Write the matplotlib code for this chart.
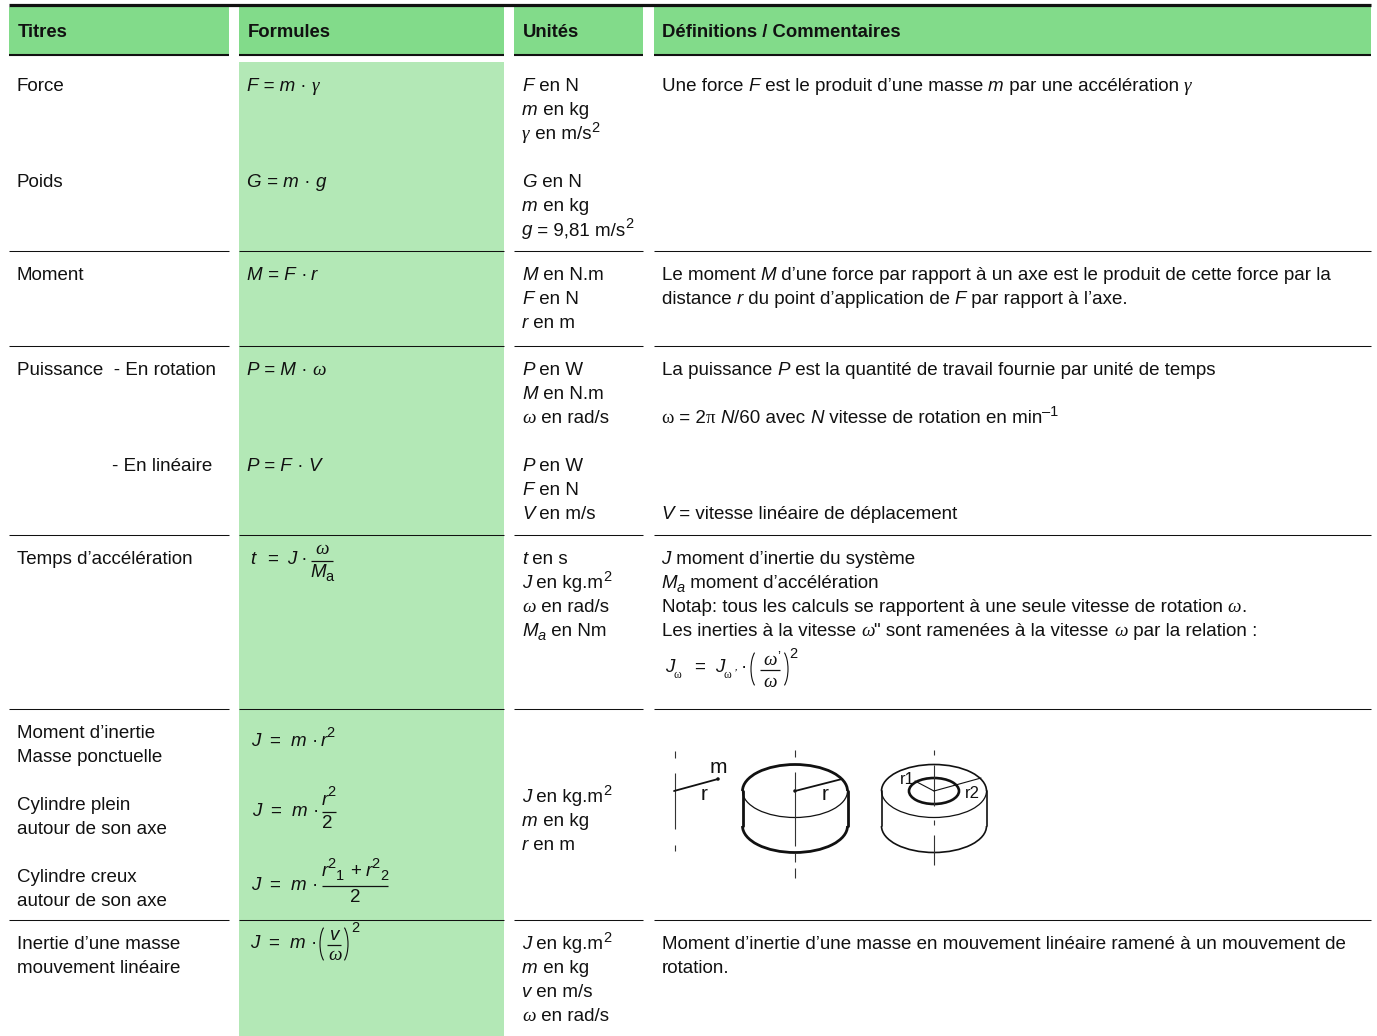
import re
import matplotlib
matplotlib.use('Agg')
import matplotlib.pyplot as plt
from matplotlib.patches import Rectangle, Ellipse, Arc

# couleurs
VERT = '#82db8a'
VERT_CLAIR = '#b3e8b6'
NOIR = '#111111'
TAILLE = 13.47

# en-tetes
entetes = ['Titres', 'Formules', 'Unités', 'Définitions / Commentaires']

# colonnes (bords gauche / droit)
col_gauche = [9, 239, 514, 654]
col_droite = [229, 504, 643, 1371]
col_texte = [17, 247, 522, 661.5]

# lignes de separation
lignes_y = [251, 346, 535, 709, 920]

# contenu, marquage : {i:italique} {g:grec} {h:grec droit} {s:exposant} {b:indice}
titres = ['Force', 'Poids', 'Moment', 'Puissance  - En rotation',
          'Temps d’accélération', 'Moment d’inertie', 'Masse ponctuelle',
          'Cylindre plein', 'autour de son axe', 'Cylindre creux',
          'autour de son axe', 'Inertie d’une masse', 'mouvement linéaire']
titres_y = [85, 181, 274, 369, 558, 732, 756, 804, 828, 876, 900, 943, 967]

formules = ['{i:F = m} · {g:γ}', '{i:G = m} · {i:g}', '{i:M = F} ·\u2009{i:r}',
            '{i:P = M} · {g:ω}', '{i:P = F} · {i:V}']
formules_y = [85, 181, 274, 369, 465]

unites = ['{i:F} en N', '{i:m} en kg', '{g:γ} en m/s{s:2}',
          '{i:G} en N', '{i:m} en kg', '{i:g} = 9,81 m/s{s:2}',
          '{i:M} en N.m', '{i:F} en N', '{i:r} en m',
          '{i:P} en W', '{i:M} en N.m', '{g:ω} en rad/s',
          '{i:P} en W', '{i:F} en N', '{i:V} en m/s',
          '{i:t} en s', '{i:J} en kg.m{s:2}', '{g:ω} en rad/s', '{i:M}{b:a} en Nm',
          '{i:J} en kg.m{s:2}', '{i:m} en kg', '{i:r} en m',
          '{i:J} en kg.m{s:2}', '{i:m} en kg', '{i:v} en m/s', '{g:ω} en rad/s']
unites_y = [85, 109, 133, 181, 205, 229, 274, 298, 322, 369, 393, 417,
            465, 489, 513, 558, 582, 606, 630, 796, 820, 844, 943, 967, 991, 1015]

definitions = [
    'Une force {i:F} est le produit d’une masse {i:m} par une accélération {g:γ}',
    'Le moment {i:M} d’une force par rapport à un axe est le produit de cette force par la',
    'distance {i:r} du point d’application de {i:F} par rapport à l’axe.',
    'La puissance {i:P} est la quantité de travail fournie par unité de temps',
    '{h:ω} = 2{h:π} {i:N}/60 avec {i:N} vitesse de rotation en min{s:–1}',
    '{i:V} = vitesse linéaire de déplacement',
    '{i:J} moment d’inertie du système',
    '{i:M}{b:a} moment d’accélération',
    'Notaþ: tous les calculs se rapportent à une seule vitesse de rotation {g:ω}.',
    'Les inerties à la vitesse {g:ω}" sont ramenées à la vitesse {g:ω} par la relation :',
    'Moment d’inertie d’une masse en mouvement linéaire ramené à un mouvement de',
    'rotation.']
definitions_y = [85, 274, 298, 369, 417, 513, 558, 582, 606, 630, 943, 967]

fig = plt.figure(figsize=(13.77, 10.36), dpi=100)
ax = fig.add_axes([0, 0, 1, 1])
ax.set_xlim(0, 1377)
ax.set_ylim(1036, 0)
ax.axis('off')
renderer = fig.canvas.get_renderer()


def style_de(kind, size):
    # retourne la police, le decalage vertical et la taille de chaque morceau
    if kind == 'i':
        return dict(family='Liberation Sans', style='italic', size=size), 0
    if kind == 'g':
        return dict(family='Liberation Serif', style='italic', size=size * 1.02), 0
    if kind == 'h':
        return dict(family='Liberation Serif', style='normal', size=size), 0
    if kind == 's':
        return dict(family='Liberation Sans', size=size * 0.78), -7
    if kind == 'b':
        return dict(family='Liberation Sans', style='italic', size=size * 0.78), 4
    return dict(family='Liberation Sans', size=size), 0


def largeur(s, **kw):
    # le x evite de perdre les espaces en bout de chaine
    a = ax.text(0, 0, 'x' + s + 'x', **kw)
    b = ax.text(0, 0, 'xx', **kw)
    w = a.get_window_extent(renderer).width - b.get_window_extent(renderer).width
    a.remove()
    b.remove()
    return w


def riche(x, ybase, s, size=TAILLE, center=False):
    morceaux = []
    pos = 0
    for m in re.finditer(r'\{(\w):([^}]*)\}', s):
        if m.start() > pos:
            morceaux.append(('n', s[pos:m.start()]))
        morceaux.append((m.group(1), m.group(2)))
        pos = m.end()
    if pos < len(s):
        morceaux.append(('n', s[pos:]))
    mesures = [largeur(t, **style_de(k, size)[0]) for k, t in morceaux]
    if center:
        x -= sum(mesures) / 2
    for (k, t), w in zip(morceaux, mesures):
        kw, dy = style_de(k, size)
        ax.text(x, ybase + dy, t, va='baseline', ha='left', color=NOIR, **kw)
        x += w
    return x


def ligne(x, y, s, **kw):
    riche(x, y + 6, s, **kw)


def barre(x0, x1, y, lw=0.9):
    ax.plot([x0, x1], [y, y], color=NOIR, lw=lw, solid_capstyle='butt')


def parentheses(x0, x1, yc, h):
    ax.add_patch(Arc((x0 + 8, yc), 16, h * 1.03, theta1=105, theta2=255, color=NOIR, lw=0.8))
    ax.add_patch(Arc((x1 - 8, yc), 16, h * 1.03, theta1=-75, theta2=75, color=NOIR, lw=0.8))


# fonds
for g, d in zip(col_gauche, col_droite):
    ax.add_patch(Rectangle((g, 7), d - g, 47, fc=VERT, ec='none'))
    barre(g, d, 54.8, lw=1.5)
ax.add_patch(Rectangle((239, 62), 265, 974, fc=VERT_CLAIR, ec='none'))
barre(9, 1371, 5.3, lw=2.3)

for y in lignes_y:
    for g, d in zip(col_gauche, col_droite):
        barre(g, d, y - 0.2, lw=0.75)

# textes
for x, t in zip(col_texte, entetes):
    ax.text(x + 0.7, 37, t, family='Liberation Sans', weight='bold', size=13.35,
            va='baseline', color=NOIR)
for t, y in zip(titres, titres_y):
    ligne(col_texte[0], y, t)
ligne(112, 465, '- En linéaire')
for t, y in zip(formules, formules_y):
    ligne(col_texte[1], y, t)
for t, y in zip(unites, unites_y):
    ligne(col_texte[2], y, t)
for t, y in zip(definitions, definitions_y):
    ligne(col_texte[3], y, t)

# temps d'acceleration
riche(250, 564, '{i:t}')
riche(267, 564, '=')
riche(287, 564, '{i:J} ·')
riche(322, 554, '{g:ω}', center=True)
barre(311, 333, 560.5)
riche(310, 577, '{i:M}')
riche(325, 581, 'a', size=TAILLE * 0.78)

# J omega
riche(665, 672, '{i:J}')
riche(674, 678, '{h:ω}', size=8.5)
riche(694, 672, '=')
riche(715, 672, '{i:J}')
riche(724, 678, '{h:ω}', size=8.5)
riche(734, 678, '{i:’}', size=9)
riche(741, 672, '·')
parentheses(751, 788, 669, 38)
riche(770, 665, '{g:ω}', center=True)
riche(777, 660, '’', size=10)
barre(760, 780, 669.5)
riche(770, 687, '{g:ω}', center=True)
riche(789, 658, '2', size=TAILLE * 0.78)


def debut_j(x, y):
    riche(x, y, '{i:J}')
    riche(x + 18, y, '=')
    riche(x + 40, y, '{i:m}')
    riche(x + 61, y, '·')


# moments d'inertie
debut_j(251, 746)
riche(321, 746, '{i:r}')
riche(326, 737, '2', size=TAILLE * 0.78)

debut_j(252, 816)
riche(322, 805, '{i:r}')
riche(327, 796, '2', size=TAILLE * 0.78)
barre(322, 336, 812)
riche(322, 828, '2')

debut_j(251, 890)
riche(322, 876, '{i:r}')
riche(327, 868, '2', size=TAILLE * 0.78)
riche(336, 880, '1', size=TAILLE * 0.78)
riche(350, 876, '+')
riche(366, 876, '{i:r}')
riche(371, 868, '2', size=TAILLE * 0.78)
riche(380, 880, '2', size=TAILLE * 0.78)
barre(322, 388, 886)
riche(355, 902, '2', center=True)

debut_j(250, 948)
parentheses(320, 348, 944, 38)
riche(335, 940, '{i:v}', center=True)
barre(327, 341, 944.5)
riche(335, 960, '{g:ω}', center=True)
riche(351, 932, '2', size=TAILLE * 0.78)


# schemas
def axe(x, morceaux):
    for y0, y1 in morceaux:
        ax.plot([x, x], [y0, y1], color='#333333', lw=0.8, solid_capstyle='butt')


def trait(x0, y0, x1, y1, lw=1.2):
    ax.plot([x0, x1], [y0, y1], color=NOIR, lw=lw, solid_capstyle='round')


def cylindre(xc, yh, yb, rx, ry, lw):
    ax.add_patch(Arc((xc, yh), 2 * rx, 2 * ry, theta1=180, theta2=360, color=NOIR, lw=lw))
    ax.add_patch(Arc((xc, yh), 2 * rx, 2 * ry, theta1=0, theta2=180, color=NOIR, lw=0.9))
    ax.add_patch(Arc((xc, yb), 2 * rx, 2 * ry, theta1=0, theta2=180, color=NOIR, lw=lw))
    trait(xc - rx, yh, xc - rx, yb, lw)
    trait(xc + rx, yh, xc + rx, yb, lw)


axe(674.5, [(751, 758), (773, 829), (845, 851)])
trait(674, 791, 718, 779, lw=1.3)
ax.add_patch(Ellipse((718, 779), 3.5, 3.5, fc=NOIR, ec='none'))
ax.text(709.5, 773, 'm', family='Liberation Sans', size=15, color=NOIR, va='baseline')
ax.text(701, 800, 'r', family='Liberation Sans', size=15, color=NOIR, va='baseline')

axe(795, [(750, 757), (772, 846), (853, 862), (868, 878)])
cylindre(795, 791, 826, 52.5, 26.5, 2.0)
trait(795, 791, 842, 779, lw=1.3)
ax.add_patch(Ellipse((795, 791), 3.5, 3.5, fc=NOIR, ec='none'))
ax.text(822, 800, 'r', family='Liberation Sans', size=15, color=NOIR, va='baseline')

axe(934, [(750, 755), (765, 806), (820, 825), (835, 865)])
cylindre(934, 791, 826, 52.5, 26.5, 1.2)
ax.add_patch(Ellipse((934, 791), 50, 26, fc='none', ec=NOIR, lw=1.9))
trait(934, 791, 915, 781, lw=0.8)
trait(934, 791, 981, 778, lw=0.8)
ax.text(900, 784, 'r1', family='Liberation Sans', size=12, color=NOIR, va='baseline')
ax.text(965, 798, 'r2', family='Liberation Sans', size=12, color=NOIR, va='baseline')

fig.savefig('out.png', dpi=100)
